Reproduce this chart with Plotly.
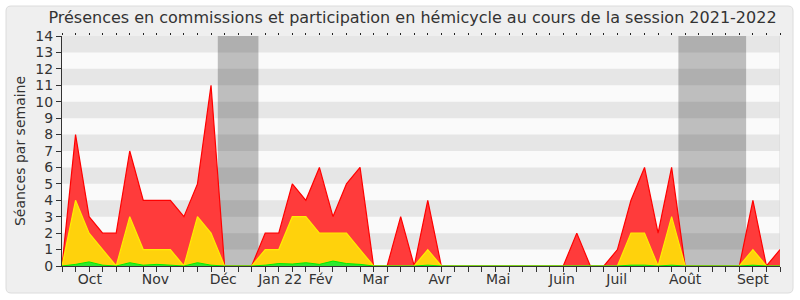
import plotly.graph_objects as go

weeks = list(range(54))
total = [0, 8, 3, 2, 2, 7, 4, 4, 4, 3, 5, 11, 0, 0, 0, 2, 2, 5, 4, 6, 3, 5, 6, 0, 0, 3, 0, 4, 0,
         0, 0, 0, 0, 0, 0, 0, 0, 0, 2, 0, 0, 1, 4, 6, 2, 6, 0, 0, 0, 0, 0, 4, 0, 1]
commission = [0, 4, 2, 1, 0, 3, 1, 1, 1, 0, 3, 2, 0, 0, 0, 1, 1, 3, 3, 2, 2, 2, 1, 0, 0, 0, 0, 1, 0,
              0, 0, 0, 0, 0, 0, 0, 0, 0, 0, 0, 0, 0, 2, 2, 0, 3, 0, 0, 0, 0, 0, 1, 0, 0]
hemicycle = [0, 0.1, 0.25, 0.05, 0, 0.2, 0.05, 0.1, 0.05, 0, 0.2, 0.05, 0, 0, 0, 0.05, 0.15, 0.12,
             0.2, 0.1, 0.3, 0.15, 0.1, 0, 0, 0, 0, 0.05, 0, 0, 0, 0, 0, 0, 0, 0, 0, 0, 0, 0, 0, 0,
             0.05, 0.05, 0, 0.05, 0, 0, 0, 0, 0, 0.05, 0, 0]
month_pos = [2.05, 6.9, 11.9, 16.1, 19.1, 23.15, 27.9, 32.2, 36.9, 40.95, 46.0, 51.0]
month_labels = ["Oct", "Nov", "Déc", "Jan 22", "Fév", "Mar", "Avr", "Mai", "Juin", "Juil", "Août", "Sept"]
breaks = [(11.5, 14.5), (45.5, 50.5)]

FONT = "DejaVu Sans"
TXT = "#333333"
W, H = 800, 300
L, R, T, B = 62, 20, 36, 34
pw, ph = W - L - R, H - T - B

fig = go.Figure()
fig.add_trace(go.Scatter(x=weeks, y=total, mode="lines", fill="tozeroy",
                         line=dict(color="#ff0000", width=1.2), fillcolor="#ff3b3b",
                         hoverinfo="skip", showlegend=False))
fig.add_trace(go.Scatter(x=weeks, y=commission, mode="lines", fill="tozeroy",
                         line=dict(color="#ffee00", width=1.2), fillcolor="#ffd20c",
                         hoverinfo="skip", showlegend=False))
fig.add_trace(go.Scatter(x=weeks, y=hemicycle, mode="lines", fill="tozeroy",
                         line=dict(color="#00ee00", width=1), fillcolor="#2ee82e",
                         hoverinfo="skip", showlegend=False))
# invisible trace for top tick dots
fig.add_trace(go.Scatter(x=[0, 53], y=[0, 0], xaxis="x2", mode="lines",
                         line=dict(width=0), hoverinfo="skip", showlegend=False, opacity=0))

shapes = []
# rounded frame (paper coords)
def px2x(p):
    return (p - L) / pw
def py2y(p):
    return (H - B - p) / ph
x0, x1, y0, y1 = px2x(6), px2x(793), py2y(293), py2y(6)
rx, ry = 5 / pw, 5 / ph
path = (f"M {x0+rx},{y1} L {x1-rx},{y1} Q {x1},{y1} {x1},{y1-ry} L {x1},{y0+ry} "
        f"Q {x1},{y0} {x1-rx},{y0} L {x0+rx},{y0} Q {x0},{y0} {x0},{y0+ry} L {x0},{y1-ry} "
        f"Q {x0},{y1} {x0+rx},{y1} Z")
shapes.append(dict(type="path", path=path, xref="paper", yref="paper", layer="below",
                   fillcolor="#efefef", line=dict(color="#dcdcdc", width=1)))
# plot area background
shapes.append(dict(type="rect", xref="x", yref="y", x0=0, x1=53, y0=0, y1=14, layer="below",
                   fillcolor="#fafafa", line=dict(width=0)))
for a, b in breaks:
    shapes.append(dict(type="rect", xref="x", yref="y", x0=a, x1=b, y0=0, y1=14, layer="below",
                       fillcolor="#bebebe", line=dict(width=0)))
for k in range(1, 14, 2):
    shapes.append(dict(type="rect", xref="x", yref="y", x0=0, x1=53, y0=k, y1=k + 1, layer="below",
                       fillcolor="rgba(0,0,0,0.08)", line=dict(width=0)))
shapes.append(dict(type="line", xref="x", yref="y", x0=53, x1=53, y0=0, y1=14, layer="below",
                   line=dict(color="#d8d8d8", width=1)))

fig.update_layout(
    width=W, height=H,
    margin=dict(l=L, r=R, t=T, b=B),
    paper_bgcolor="white", plot_bgcolor="rgba(0,0,0,0)",
    font=dict(family=FONT, color=TXT, size=13),
    title=dict(text="Présences en commissions et participation en hémicycle au cours de la session 2021-2022",
               x=0.5156, xanchor="center", y=1 - 17 / H, yanchor="middle",
               font=dict(family=FONT, size=16, color=TXT)),
    shapes=shapes,
    xaxis=dict(range=[0, 53], tickvals=month_pos, ticktext=month_labels, ticks="",
               showgrid=False, zeroline=False, showline=True, linecolor="#333333", linewidth=1,
               tickfont=dict(size=14, color=TXT),
               minor=dict(tick0=0, dtick=1, ticks="outside", ticklen=5, tickcolor="#333333",
                          showgrid=False)),
    xaxis2=dict(range=[0, 53], overlaying="x", side="top", showticklabels=False,
                tick0=0, dtick=1, ticks="outside", ticklen=2, tickcolor="#222222",
                showgrid=False, zeroline=False, showline=False),
    yaxis=dict(range=[0, 14], tick0=0, dtick=1, ticks="outside", ticklen=5, tickcolor="#333333",
               showgrid=False, zeroline=False, showline=True, linecolor="#333333", linewidth=1,
               tickfont=dict(size=14, color=TXT),
               title=dict(text="Séances par semaine", font=dict(size=14, color=TXT), standoff=6)),
)

fig.write_html("out.html")
